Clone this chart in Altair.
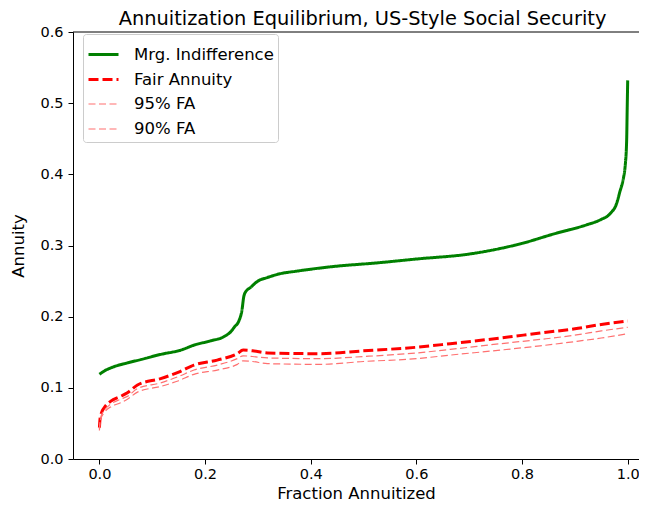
import altair as alt
import pandas as pd

# ---- data ----
series_names = ["Mrg. Indifference", "Fair Annuity", "\u00a095% FA", "\u00a090% FA"]

mi_x = [0.000, 0.010, 0.025, 0.053, 0.080, 0.116, 0.154, 0.179, 0.210, 0.236,
        0.250, 0.256, 0.264, 0.270, 0.273, 0.276, 0.286, 0.300, 0.318, 0.340,
        0.374, 0.437, 0.532, 0.600, 0.700, 0.760, 0.800, 0.859, 0.922, 0.948,
        0.967, 0.979, 0.985, 0.992, 0.995, 0.998, 0.999, 1.000]
mi_y = [0.119, 0.124, 0.129, 0.135, 0.140, 0.147, 0.153, 0.160, 0.166, 0.172,
        0.180, 0.186, 0.194, 0.210, 0.227, 0.234, 0.241, 0.250, 0.255, 0.260,
        0.264, 0.270, 0.276, 0.281, 0.288, 0.296, 0.303, 0.316, 0.329, 0.336,
        0.345, 0.359, 0.375, 0.395, 0.410, 0.447, 0.490, 0.532]

fa_x = [0.000, 0.001, 0.003, 0.009, 0.021, 0.040, 0.053, 0.072, 0.116, 0.150,
        0.179, 0.223, 0.261, 0.272, 0.290, 0.318, 0.418, 0.500, 0.600, 0.664,
        0.759, 0.834, 0.900, 0.950, 1.000]
fa_y = [0.044, 0.055, 0.063, 0.072, 0.081, 0.088, 0.093, 0.104, 0.113, 0.122,
        0.132, 0.139, 0.148, 0.153, 0.152, 0.149, 0.148, 0.152, 0.157, 0.162,
        0.170, 0.177, 0.183, 0.189, 0.194]
fa95_y = [0.042, 0.052, 0.060, 0.068, 0.077, 0.084, 0.088, 0.099, 0.107, 0.116,
          0.125, 0.132, 0.141, 0.145, 0.144, 0.142, 0.141, 0.144, 0.149, 0.154,
          0.162, 0.168, 0.174, 0.180, 0.185]
fa90_y = [0.040, 0.050, 0.057, 0.065, 0.073, 0.079, 0.084, 0.094, 0.102, 0.110,
          0.119, 0.125, 0.133, 0.138, 0.137, 0.134, 0.133, 0.137, 0.141, 0.146,
          0.153, 0.159, 0.165, 0.170, 0.176]

x_ticks = [0.0, 0.2, 0.4, 0.6, 0.8, 1.0]
y_ticks = [0.0, 0.1, 0.2, 0.3, 0.4, 0.5, 0.6]

rows = []
for x, y in zip(mi_x, mi_y):
    rows.append({"x": x, "y": y, "series": series_names[0]})
for ys, name in [(fa_y, series_names[1]), (fa95_y, series_names[2]), (fa90_y, series_names[3])]:
    for x, y in zip(fa_x, ys):
        rows.append({"x": x, "y": y, "series": name})
df = pd.DataFrame(rows)

FONT = "DejaVu Sans"
W, H = 566, 427

legend = alt.Legend(
    title=None, orient="none", legendX=10, legendY=2,
    symbolType="stroke", symbolSize=900,
    labelFont=FONT, labelFontSize=16.5, labelColor="black",
    labelOffset=14, rowPadding=-1, padding=4,
    strokeColor="#cccccc", fillColor="white", cornerRadius=3,
)

axis_common = dict(
    grid=False, domainColor="black", tickColor="black", labelColor="black",
    titleColor="black", labelFont=FONT, titleFont=FONT, labelFontSize=14.5,
    titleFontSize=16.5, titleFontWeight="normal", tickSize=5, format=".1f",
)

lines = alt.Chart(df).mark_line(interpolate="monotone").encode(
    x=alt.X("x:Q", title="Fraction Annuitized",
            scale=alt.Scale(domain=[-0.05, 1.0214], nice=False, zero=False),
            axis=alt.Axis(values=x_ticks, labelPadding=3, titlePadding=5, **axis_common)),
    y=alt.Y("y:Q", title="Annuity",
            scale=alt.Scale(domain=[0, 0.6], nice=False),
            axis=alt.Axis(values=y_ticks, labelPadding=5, titlePadding=13, **axis_common)),
    color=alt.Color("series:N",
                    scale=alt.Scale(domain=series_names,
                                    range=["#008000", "#ff0000", "#ff7070", "#ff7070"]),
                    legend=legend),
    strokeDash=alt.StrokeDash("series:N",
                              scale=alt.Scale(domain=series_names,
                                              range=[[1, 0], [10, 4], [7, 3.5], [7, 3.5]]),
                              legend=legend),
    strokeWidth=alt.StrokeWidth("series:N",
                                scale=alt.Scale(type="ordinal", domain=series_names,
                                                range=[3, 3, 1.2, 1.2]),
                                legend=legend),
)

top_spine = alt.Chart(alt.Data(values=[{}])).mark_rule(color="black", strokeWidth=1).encode(
    x=alt.value(0), x2=alt.value(W), y=alt.value(0)
)

chart = alt.layer(lines, top_spine).properties(
    width=W, height=H,
    title=alt.TitleParams(
        "Annuitization Equilibrium, US-Style Social Security",
        font=FONT, fontSize=19.4, fontWeight="normal", color="black",
        anchor="middle", baseline="bottom", offset=6, dx=6.5, dy=30,
    ),
    autosize=alt.AutoSizeParams(type="none"),
    padding={"left": 65, "top": 24, "right": 0, "bottom": 43},
).configure_view(stroke=None)

chart.save("out.html", embed_options={"renderer": "svg", "actions": False})
